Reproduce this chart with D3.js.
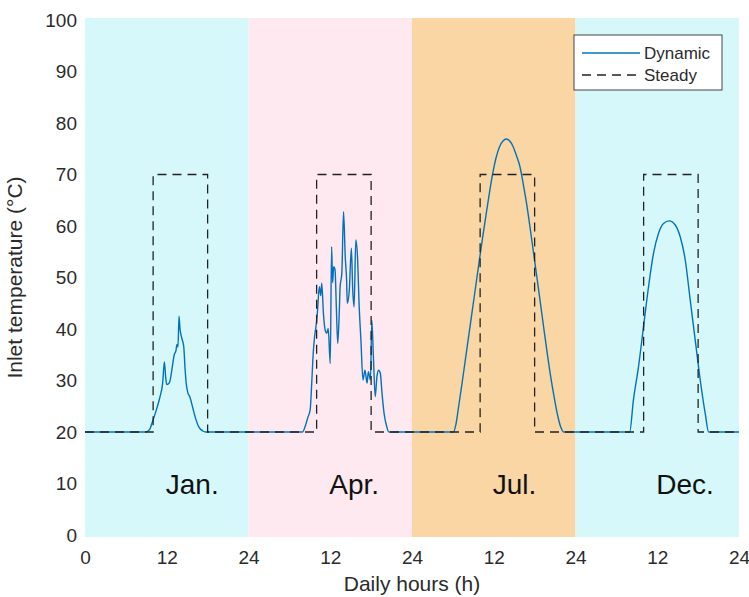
<!DOCTYPE html>
<html>
<head>
<meta charset="utf-8">
<script src="https://cdn.jsdelivr.net/npm/d3@7"></script>
<style>
  html, body { margin: 0; padding: 0; background: #ffffff; }
  svg { display: block; font-family: Arial, "Liberation Sans", Helvetica, sans-serif; }
</style>
</head>
<body>
<svg id="chart" width="749" height="597"></svg>
<script>
// ---------- data ----------
const months = ["Jan.", "Apr.", "Jul.", "Dec."];
const monthColors = ["#d6f8fa", "#fde9ef", "#f9d6a3", "#d6f8fa"];
const xTickHours = [0, 12, 24, 36, 48, 60, 72, 84, 96];
const xTickLabels = ["0", "12", "24", "12", "24", "12", "24", "12", "24"];
const yTicks = [0, 10, 20, 30, 40, 50, 60, 70, 80, 90, 100];

// Steady inlet temperature (per day): base, high level, on/off hours
const steadyBase = 20;
const steadyHigh = 70;
const steadyOn = 10;
const steadyOff = 18;

// Dynamic inlet temperature, hour of day / value for each month
const janHours = [0, 8.9, 9.5, 9.8, 10.5, 11.0, 11.4, 11.65, 11.85, 12.0, 12.4, 12.8, 13.1, 13.35, 13.5, 13.65, 13.8, 13.95, 14.1, 14.3, 14.5, 14.7, 14.9, 15.1, 15.4, 15.8, 16.2, 16.7, 17.3, 17.7, 24];
const janTemp  = [20, 20, 20.5, 21.6, 24.4, 26.8, 29.5, 33.6, 30.5, 29.2, 29.6, 32.5, 35.0, 35.8, 37.0, 36.5, 42.5, 40.0, 38.8, 37.8, 36.5, 32.0, 29.0, 27.6, 26.8, 24.8, 22.8, 21.0, 20.2, 20, 20];

const aprHours = [0, 7.9, 8.3, 8.7, 9.05, 9.3, 9.5, 9.7, 9.9, 10.1, 10.4, 10.6, 10.75, 11.0, 11.25, 11.5, 11.7, 12.0, 12.2, 12.35, 12.5, 12.7, 12.9, 13.1, 13.35, 13.45, 13.7, 13.95, 14.2, 14.4, 14.5, 14.8, 15.1, 15.3, 15.5, 15.75, 16.0, 16.25, 16.5, 16.8, 17.1, 17.4, 17.6, 17.9, 18.1, 18.35, 18.6, 18.85, 19.1, 19.35, 19.6, 19.9, 20.3, 20.6, 24];
const aprTemp  = [20, 20, 21.0, 22.8, 24.3, 30.0, 35.3, 38.5, 40.4, 43.0, 48.2, 46.5, 48.9, 43.0, 39.8, 39.2, 40.1, 33.3, 56.0, 49.0, 52.1, 51.5, 44.0, 37.2, 44.3, 48.2, 50.8, 62.8, 54.0, 49.5, 45.0, 47.6, 55.7, 47.6, 44.3, 57.3, 54.0, 44.3, 37.9, 30.1, 32.0, 29.5, 31.7, 30.1, 41.7, 34.0, 26.9, 30.7, 32.0, 31.4, 27.5, 23.6, 21.0, 20, 20];

const julHours = [0, 6.1, 6.45, 6.85, 7.35, 7.85, 8.35, 8.85, 9.35, 9.85, 10.35, 10.85, 11.35, 11.85, 12.35, 12.85, 13.35, 13.85, 14.35, 14.85, 15.35, 15.85, 16.35, 16.85, 17.35, 17.85, 18.35, 18.85, 19.35, 19.85, 20.35, 20.85, 21.35, 21.85, 22.25, 24];
const julTemp  = [20, 20, 21.5, 25.0, 29.5, 34.2, 38.9, 43.6, 48.3, 53.0, 57.6, 62.0, 66.3, 70.2, 73.3, 75.4, 76.5, 76.9, 76.5, 75.4, 73.6, 71.5, 68.0, 64.1, 59.5, 54.7, 49.9, 45.0, 40.1, 35.3, 30.8, 26.9, 23.4, 20.9, 20, 20];

const decHours = [0, 7.95, 8.5, 9.25, 9.98, 10.72, 11.45, 12.19, 12.92, 13.76, 14.64, 15.37, 16.11, 16.84, 17.57, 18.31, 19.04, 19.55, 24];
const decTemp  = [20, 20, 26.2, 32.7, 40.4, 48.2, 54.7, 58.6, 60.5, 61.0, 60.2, 57.9, 53.4, 45.6, 37.9, 30.1, 23.6, 20, 20];

// ---------- layout ----------
const svg = d3.select("#chart");
const margin = { left: 85, right: 749 - 739, top: 20, bottom: 597 - 535 };
const W = 749, H = 597;
const x = d3.scaleLinear().domain([0, 96]).range([margin.left, W - margin.right]);
const y = d3.scaleLinear().domain([0, 100]).range([H - margin.bottom, margin.top]);

const textColor = "#2b2b2b";

// background bands
svg.append("g").selectAll("rect").data(months).join("rect")
  .attr("x", (d, i) => x(i * 24))
  .attr("width", (d, i) => x((i + 1) * 24) - x(i * 24))
  .attr("y", y(100) - 2)
  .attr("height", y(0) - y(100) + 4)
  .attr("fill", (d, i) => monthColors[i]);

// y axis labels
const yAxis = d3.axisLeft(y).tickValues(yTicks).tickSize(0).tickPadding(8).tickFormat(d3.format("d"));
svg.append("g").attr("transform", `translate(${x(0)},0)`).call(yAxis)
  .call(g => g.select(".domain").remove())
  .selectAll("text").attr("font-size", 19).attr("fill", textColor)
  .attr("font-family", "Arial, 'Liberation Sans', sans-serif");

// x axis labels
const xAxis = d3.axisBottom(x).tickValues(xTickHours).tickSize(0).tickPadding(16)
  .tickFormat((d, i) => xTickLabels[i]);
svg.append("g").attr("transform", `translate(0,${y(0)})`).call(xAxis)
  .call(g => g.select(".domain").remove())
  .selectAll("text").attr("font-size", 19).attr("fill", textColor)
  .attr("font-family", "Arial, 'Liberation Sans', sans-serif");

// month labels
svg.append("g").selectAll("text").data(months).join("text")
  .attr("x", (d, i) => x(i * 24 + 12) - 1)
  .attr("y", y(10))
  .attr("dy", "0.36em")
  .attr("font-size", 28)
  .attr("fill", "#111")
  .text(d => d);

// build series
const dynAll = [];
[[janHours, janTemp], [aprHours, aprTemp], [julHours, julTemp], [decHours, decTemp]].forEach(([hs, vs], m) => {
  hs.forEach((h, i) => dynAll.push([m * 24 + h, vs[i]]));
});
const steadyAll = [];
months.forEach((mo, m) => {
  const o = m * 24;
  steadyAll.push([o, steadyBase], [o + steadyOn, steadyBase], [o + steadyOn, steadyHigh],
                 [o + steadyOff, steadyHigh], [o + steadyOff, steadyBase], [o + 24, steadyBase]);
});

const dynLine = d3.line().x(d => x(d[0])).y(d => y(d[1])).curve(d3.curveMonotoneX);
const stLine = d3.line().x(d => x(d[0])).y(d => y(d[1]));

svg.append("path").datum(dynAll).attr("d", dynLine)
  .attr("fill", "none").attr("stroke", "#0072BD").attr("stroke-width", 1.4)
  .attr("stroke-linejoin", "round");

svg.append("path").datum(steadyAll).attr("d", stLine)
  .attr("fill", "none").attr("stroke", "#222").attr("stroke-width", 1.3)
  .attr("stroke-dasharray", "9,6");

// axis titles
svg.append("text")
  .attr("x", (x(0) + x(96)) / 2)
  .attr("y", 591)
  .attr("text-anchor", "middle")
  .attr("font-size", 21)
  .attr("fill", textColor)
  .text("Daily hours (h)");

svg.append("text")
  .attr("transform", `translate(22,${(y(0) + y(100)) / 2}) rotate(-90)`)
  .attr("text-anchor", "middle")
  .attr("font-size", 21)
  .attr("fill", textColor)
  .text("Inlet temperature (°C)");

// legend
const lg = svg.append("g");
lg.append("rect").attr("x", 574).attr("y", 35).attr("width", 148).attr("height", 55)
  .attr("fill", "#fff").attr("stroke", "#333").attr("stroke-width", 0.9);
const legendItems = [
  { name: "Dynamic", color: "#0072BD", dash: null, yy: 53 },
  { name: "Steady", color: "#222", dash: "9,6", yy: 75 }
];
legendItems.forEach(it => {
  lg.append("line").attr("x1", 582).attr("x2", 640).attr("y1", it.yy).attr("y2", it.yy)
    .attr("stroke", it.color).attr("stroke-width", 1.3)
    .attr("stroke-dasharray", it.dash);
  lg.append("text").attr("x", 644).attr("y", it.yy).attr("dy", "0.36em")
    .attr("font-size", 17).attr("fill", textColor).text(it.name);
});
</script>
</body>
</html>
